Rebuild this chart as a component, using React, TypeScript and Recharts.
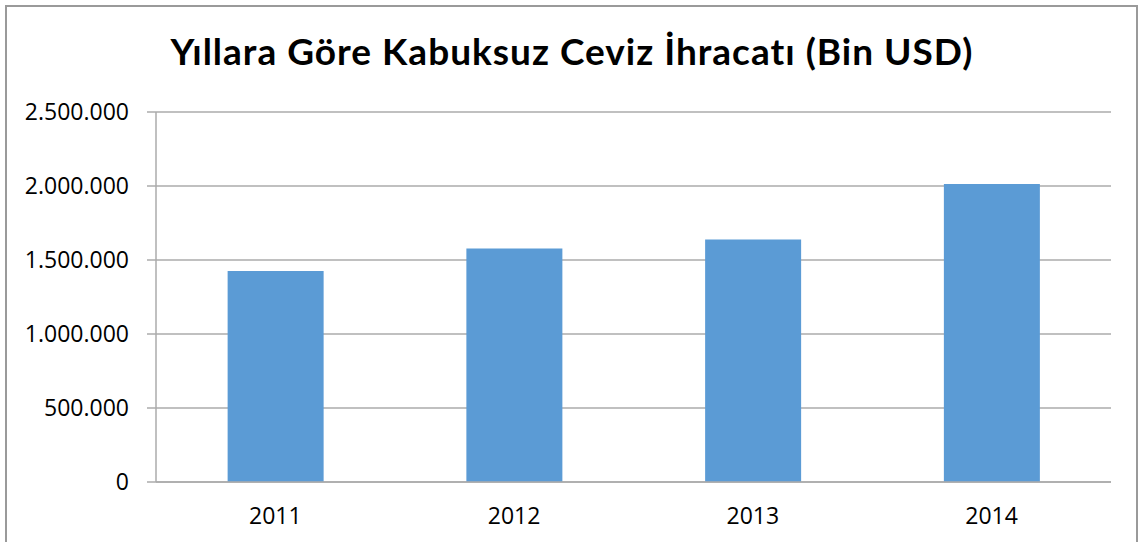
import React from 'react';
import { BarChart, Bar, XAxis, YAxis, CartesianGrid } from 'recharts';

const years = ['2011', '2012', '2013', '2014'];
const exportValues = [1426000, 1577000, 1638000, 2013000];
const yTicks = [0, 500000, 1000000, 1500000, 2000000, 2500000];
const edgeTicks = [0, 1, 2, 3, 4];
const title = 'Yıllara Göre Kabuksuz Ceviz İhracatı (Bin USD)';

const data = years.map((y, i) => ({ year: y, value: exportValues[i] }));

const fmt = (v: number) => v.toLocaleString('de-DE');

const FONT = '"Open Sans", sans-serif';
const GRID = '#ABABAB';

export default function App() {
  return (
    <div style={{ position: 'absolute', left: 0, top: 0, width: 1140, height: 542, background: '#fff', overflow: 'hidden' }}>
      <div
        style={{
          position: 'absolute',
          left: 5,
          top: 5,
          width: 1133,
          height: 560,
          border: '2px solid #9A9A9A',
          boxSizing: 'border-box',
        }}
      />
      <div
        style={{
          position: 'absolute',
          left: 0,
          top: 26,
          width: 1144,
          textAlign: 'center',
          fontFamily: 'Lato, sans-serif',
          fontWeight: 700,
          fontSize: 37,
          letterSpacing: 1,
          lineHeight: '50px',
          color: '#000',
          whiteSpace: 'nowrap',
        }}
      >
        {title}
      </div>
      <div style={{ position: 'absolute', left: 0, top: 0 }}>
        <BarChart
          width={1140}
          height={542}
          data={data}
          margin={{ top: 112, right: 29, bottom: 20, left: 0 }}
          barCategoryGap="30%"
        >
          <CartesianGrid vertical={false} stroke={GRID} strokeWidth={1.5} />
          <XAxis
            xAxisId="edges"
            type="number"
            domain={[0, 4]}
            ticks={edgeTicks}
            tick={false}
            tickSize={8}
            tickLine={{ stroke: GRID, strokeWidth: 1.5 }}
            axisLine={false}
            height={0}
          />
          <XAxis
            dataKey="year"
            tickLine={false}
            tickSize={0}
            tickMargin={26}
            height={40}
            axisLine={{ stroke: GRID, strokeWidth: 1.5 }}
            tick={{ fill: '#000', fontSize: 23, fontFamily: FONT }}
          />
          <YAxis
            domain={[0, 2500000]}
            ticks={yTicks}
            tickFormatter={fmt}
            width={156}
            tickSize={9}
            tickMargin={18}
            axisLine={{ stroke: GRID, strokeWidth: 1.5 }}
            tickLine={{ stroke: GRID, strokeWidth: 1.5 }}
            tick={{ fill: '#000', fontSize: 23, fontFamily: FONT }}
          />
          <Bar dataKey="value" fill="#5B9BD5" isAnimationActive={false} />
        </BarChart>
      </div>
    </div>
  );
}
